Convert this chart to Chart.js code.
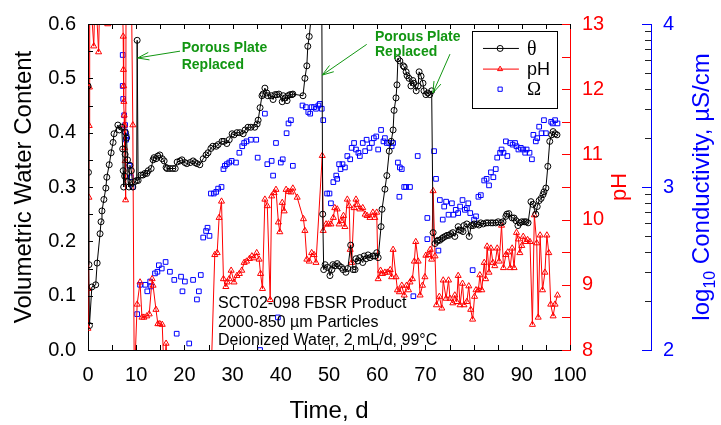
<!DOCTYPE html>
<html>
<head>
<meta charset="utf-8">
<script src="https://cdn.jsdelivr.net/npm/chart.js@4.4.1/dist/chart.umd.min.js"></script>
<style>
html,body{margin:0;padding:0;background:#fff;}
</style>
</head>
<body>
<canvas id="c" width="721" height="425"></canvas>
<script>
// series: [day, value]
const theta = [
  [0.0,0.486],[0.1,0.327],[0.2,0.157],[0.3,0.045],[0.8,0.116],[1.6,0.12],[1.9,0.16],[2.5,0.214],[2.7,0.236],[2.9,0.256],
  [3.3,0.277],[3.7,0.298],[3.9,0.318],[4.4,0.341],[4.8,0.363],[5.2,0.382],[5.4,0.398],[6.2,0.414],[6.5,0.405],[7.0,0.41],
  [7.2,0.37],[7.3,0.33],[7.4,0.30],[7.6,0.32],[7.7,0.36],[7.8,0.40],[8.0,0.39],[8.2,0.35],[8.3,0.31],[8.5,0.30],
  [8.7,0.34],[9.0,0.33],[9.3,0.30],[9.7,0.31],[10.1,0.312],[10.2,0.57],[10.4,0.312],[11.0,0.322],[11.4,0.322],[11.8,0.325],
  [12.2,0.325],[12.5,0.33],[13.1,0.334],[13.5,0.35],[13.7,0.354],[14.1,0.352],[14.5,0.357],[14.9,0.359],[15.4,0.352],[15.8,0.348],
  [16.2,0.336],[16.4,0.334],[17.0,0.334],[17.6,0.334],[18.1,0.334],[18.5,0.346],[19.1,0.348],[19.5,0.35],[20.1,0.345],[20.5,0.343],
  [21.2,0.345],[21.8,0.348],[22.2,0.345],[22.6,0.343],[23.2,0.341],[23.9,0.352],[24.5,0.359],[24.9,0.363],[25.5,0.371],[25.9,0.375],
  [26.6,0.375],[27.0,0.378],[27.8,0.384],[28.2,0.384],[28.8,0.38],[29.3,0.387],[29.9,0.398],[30.3,0.396],[30.9,0.4],[31.5,0.4],
  [32.2,0.398],[32.6,0.405],[33.2,0.41],[33.8,0.41],[34.6,0.41],[35.1,0.416],[35.3,0.423],[35.7,0.446],[36.1,0.468],[36.3,0.471],
  [36.7,0.482],[37.1,0.473],[37.3,0.468],[38.0,0.468],[38.4,0.461],[38.8,0.47],[39.2,0.47],[39.6,0.471],[40.3,0.457],[40.5,0.468],
  [40.9,0.464],[41.3,0.459],[41.5,0.468],[41.9,0.47],[42.3,0.47],[42.5,0.471],[44.6,0.468],[45.0,0.5],[45.4,0.523],[45.6,0.559],
  [45.9,0.577],[46.5,0.63],[47.5,0.66],[48.5,0.64],[48.7,0.25],[48.9,0.148],[49.2,0.157],[49.7,0.152],[50.2,0.137],[50.6,0.148],
  [50.8,0.157],[51.2,0.155],[51.7,0.159],[52.1,0.155],[52.6,0.152],[52.9,0.148],[53.5,0.143],[53.9,0.15],[54.5,0.193],[55.0,0.148],
  [55.4,0.148],[55.6,0.168],[56.0,0.164],[56.4,0.17],[57.0,0.161],[57.3,0.173],[57.7,0.168],[58.1,0.175],[58.5,0.17],[59.1,0.173],
  [59.5,0.173],[59.9,0.179],[60.2,0.17],[60.8,0.227],[61.0,0.259],[61.6,0.296],[62.0,0.321],[62.5,0.366],[62.9,0.384],[63.3,0.405],
  [63.5,0.441],[63.9,0.464],[64.1,0.488],[64.3,0.536],[64.7,0.532],[65.4,0.523],[65.6,0.521],[66.0,0.512],[66.2,0.505],[66.6,0.5],
  [67.0,0.486],[67.4,0.496],[67.6,0.491],[68.1,0.477],[68.5,0.486],[68.7,0.512],[69.1,0.504],[69.5,0.491],[69.7,0.477],[70.1,0.47],
  [70.5,0.473],[70.9,0.47],[71.3,0.477],[71.6,0.216],[72.0,0.196],[72.4,0.2],[72.6,0.202],[73.0,0.202],[73.4,0.205],[73.7,0.207],
  [74.1,0.209],[74.5,0.211],[74.9,0.211],[75.3,0.214],[75.7,0.216],[76.1,0.209],[76.8,0.227],[77.0,0.221],[77.4,0.22],[77.8,0.218],
  [78.0,0.229],[78.6,0.232],[79.1,0.209],[79.5,0.229],[79.9,0.229],[80.1,0.232],[80.7,0.232],[81.1,0.23],[81.5,0.234],[82.0,0.232],
  [82.6,0.234],[83.0,0.234],[83.6,0.234],[84.0,0.234],[84.6,0.234],[85.1,0.236],[85.7,0.234],[86.1,0.236],[86.7,0.246],[86.9,0.25],
  [87.3,0.251],[88.0,0.243],[88.4,0.243],[88.8,0.238],[89.2,0.229],[89.6,0.234],[90.0,0.236],[90.5,0.236],[90.9,0.236],[91.3,0.234],
  [91.9,0.273],[92.3,0.268],[92.9,0.25],[93.2,0.264],[93.6,0.275],[94.0,0.279],[94.4,0.286],[94.6,0.291],[95.0,0.298],[95.4,0.338],
  [95.8,0.384],[96.2,0.396],[96.5,0.402],[96.9,0.398],[97.3,0.396]
];

const ph = [
  [0.0,8.33],[0.1,8.94],[0.2,10.34],[0.25,11.44],[0.3,12.03],[0.4,13.6],[1.2,12.66],[1.5,13.6],[2.2,12.57],[2.5,13.6],
  [4.1,13.0],[4.5,13.6],[7.1,13.6],[7.3,12.81],[7.35,12.3],[7.4,12.05],[7.45,11.81],[7.5,11.6],[7.55,11.45],[7.6,11.1],
  [7.7,10.9],[7.8,10.3],[7.9,13.6],[9.0,13.6],[9.3,11.45],[9.6,7.5],[10.2,8.7],[10.8,9.04],[11.2,8.5],[11.6,8.5],
  [12.2,8.52],[12.7,8.55],[13.3,9.09],[13.5,8.99],[14.1,8.62],[14.5,8.4],[14.9,8.4],[15.4,8.39],[15.8,7.6],[16.2,8.1],
  [16.6,7.5],[25.5,7.5],[26.3,9.46],[26.8,9.49],[27.2,10.03],[27.7,10.28],[28.1,9.09],[28.6,8.97],[28.9,9.04],[29.3,9.09],
  [29.7,9.22],[30.3,9.04],[30.9,9.14],[31.4,9.17],[31.9,9.22],[32.4,9.34],[32.9,9.36],[33.5,9.4],[34.0,9.44],[34.4,9.41],
  [35.0,9.49],[35.5,9.39],[35.8,9.17],[36.2,8.94],[36.7,10.31],[37.2,10.21],[37.8,8.77],[38.1,10.36],[38.6,10.41],[39.0,10.46],
  [39.5,9.96],[39.8,9.81],[40.3,10.26],[40.7,10.13],[41.1,10.46],[41.6,10.43],[42.1,10.42],[42.5,10.48],[43.4,10.34],[44.7,10.01],
  [45.0,9.83],[45.4,9.39],[45.9,9.36],[46.4,9.49],[46.9,9.46],[47.3,9.34],[48.6,10.98],[48.8,9.83],[49.4,9.93],[49.9,9.93],
  [50.4,9.93],[50.9,10.03],[51.2,10.18],[51.7,10.16],[52.1,9.93],[52.5,9.98],[53.0,10.06],[53.3,9.89],[53.8,10.31],[54.2,10.21],
  [54.4,9.54],[54.7,9.34],[55.2,10.18],[55.6,10.31],[55.9,10.23],[56.4,10.16],[57.0,10.18],[57.5,10.08],[57.9,10.06],[58.5,10.03],
  [59.1,10.11],[59.5,10.03],[59.9,10.11],[60.2,9.09],[60.7,9.22],[61.1,9.17],[61.6,9.19],[62.1,9.19],[62.7,9.23],[63.0,9.12],
  [63.3,9.54],[63.9,9.12],[64.2,8.92],[64.6,8.89],[65.1,8.99],[65.6,8.84],[66.1,8.99],[66.5,8.92],[66.8,9.04],[67.3,9.09],
  [67.7,9.36],[68.0,9.66],[68.5,9.36],[68.9,8.84],[69.4,8.99],[69.9,9.12],[70.1,9.45],[70.6,9.46],[71.0,9.54],[71.3,9.39],
  [71.6,10.44],[72.0,9.44],[72.3,8.69],[72.9,8.82],[73.4,8.64],[73.7,9.07],[74.3,8.79],[74.8,9.07],[75.1,8.79],[75.7,8.72],
  [76.1,8.84],[76.5,8.74],[76.8,9.14],[77.2,8.69],[77.7,9.02],[78.0,8.69],[78.6,8.74],[79.0,8.98],[79.4,8.62],[79.8,8.47],
  [80.2,8.82],[80.5,8.92],[81.0,8.92],[81.3,9.15],[81.7,8.92],[82.2,9.34],[82.5,9.09],[82.8,9.59],[83.2,9.19],[83.6,9.56],
  [84.0,9.34],[84.4,9.29],[84.9,9.56],[85.3,9.36],[85.8,9.91],[86.2,9.26],[86.7,9.46],[87.1,9.5],[87.6,9.26],[88.0,9.56],
  [88.4,9.26],[88.9,9.8],[89.3,9.7],[89.6,9.49],[90.0,9.6],[90.3,9.74],[90.9,9.66],[91.2,9.69],[91.7,9.66],[92.2,8.39],
  [92.6,10.07],[93.1,9.64],[93.4,8.5],[93.8,9.76],[94.3,8.92],[94.8,9.19],[95.2,9.76],[95.6,9.49],[96.0,8.7],[96.5,8.52],
  [96.9,8.7],[97.4,8.84]
];

// log10 conductivity
const cond = [
  [7.2,3.81],[7.2,3.62],[7.3,3.54],[7.5,3.44],[7.7,3.38],[7.7,3.34],[8.0,3.31],[7.9,3.29],[8.6,3.13],[8.9,3.06],
  [9.3,3.0],[10.2,2.22],[10.8,2.40],[11.9,2.40],[12.3,2.36],[12.9,2.42],[13.1,2.39],[13.9,2.47],[14.4,2.48],[14.7,2.52],
  [15.3,2.5],[16.1,2.54],[17.0,2.48],[17.9,2.43],[18.4,2.1],[19.3,2.45],[19.6,2.36],[20.1,2.42],[21.0,2.04],[21.8,2.43],
  [22.6,2.31],[23.0,2.36],[23.4,2.46],[23.9,2.69],[24.5,2.73],[24.8,2.75],[25.2,2.7],[25.5,2.96],[26.1,2.96],[26.6,2.97],
  [27.0,2.99],[27.7,3.0],[28.1,3.11],[28.4,3.13],[28.8,3.14],[29.3,3.15],[29.8,3.16],[30.7,3.15],[31.4,3.21],[32.0,3.25],
  [32.4,3.27],[32.9,3.28],[33.8,3.29],[34.9,3.29],[35.2,3.18],[35.7,2.0],[36.7,3.45],[37.2,3.14],[38.1,3.16],[38.4,3.07],
  [39.0,3.27],[39.4,2.2],[40.0,3.15],[40.4,3.17],[41.2,3.33],[41.6,3.39],[42.1,3.41],[42.5,3.13],[44.5,3.5],[45.2,3.49],
  [45.7,3.46],[46.1,3.45],[46.4,3.49],[46.9,3.49],[47.3,3.48],[47.8,3.5],[48.1,3.51],[48.5,3.48],[48.8,3.41],[49.6,2.96],
  [50.1,2.96],[50.4,2.9],[50.9,3.03],[51.5,3.07],[51.7,3.05],[52.1,3.14],[52.4,3.11],[52.8,3.14],[53.3,3.12],[53.8,3.19],
  [54.4,3.17],[54.7,3.24],[55.2,3.27],[55.6,3.23],[56.1,3.21],[56.4,3.19],[57.0,3.27],[57.5,3.22],[57.8,3.29],[58.4,3.24],
  [58.9,3.27],[59.3,3.3],[59.8,3.31],[60.2,3.23],[60.8,3.35],[61.3,3.28],[61.6,3.3],[62.0,3.27],[62.5,3.27],[63.0,3.25],
  [63.3,3.27],[64.3,3.15],[64.6,2.94],[64.7,3.12],[65.1,3.11],[65.6,3.0],[66.0,3.0],[66.8,3.0],[67.5,2.33],[68.4,3.19],
  [70.4,2.81],[70.4,2.68],[71.8,3.22],[72.2,3.05],[72.7,2.61],[73.0,2.92],[73.6,2.8],[73.9,2.88],[74.3,2.91],[74.8,2.83],
  [75.5,2.9],[75.8,2.83],[76.3,2.86],[76.8,2.84],[77.2,2.88],[77.7,2.92],[78.2,2.86],[78.6,2.87],[78.9,2.9],[79.3,2.84],
  [79.8,2.49],[80.1,2.8],[80.5,2.82],[81.0,2.94],[81.5,2.95],[82.2,3.04],[82.7,3.05],[83.2,3.01],[83.6,3.09],[84.1,3.06],
  [84.6,3.11],[84.9,3.18],[85.5,3.21],[85.8,3.23],[86.2,3.21],[86.7,3.28],[87.0,3.19],[87.6,3.27],[88.1,3.26],[88.6,3.27],
  [88.9,3.25],[89.3,3.23],[89.8,3.24],[90.3,3.23],[90.7,3.21],[91.0,3.23],[91.6,3.21],[92.1,3.17],[92.4,3.32],[92.9,3.28],
  [93.2,3.3],[93.6,3.37],[94.1,3.33],[94.6,3.41],[95.0,3.33],[96.1,3.4],[96.4,3.39],[96.9,3.41],[97.4,3.39]
];

const dayTicks = [0,10,20,30,40,50,60,70,80,90,100];
const thetaTicks = [0,0.1,0.2,0.3,0.4,0.5,0.6];
const phTicks = [8,9,10,11,12,13];
const condTicks = [2,3,4];

const RED = '#ff0000', BLUE = '#0000ff', GREEN = '#129612';
const SANS = "'Liberation Sans', Arial, Helvetica, sans-serif";
const SERIF = "'Liberation Serif', 'Times New Roman', serif";

Chart.defaults.font.family = SANS;
Chart.defaults.color = '#000';

const toXY = pts => pts.map(p => ({x: p[0], y: p[1]}));
const setTicks = arr => s => { s.ticks = arr.map(v => ({value: v})); };

function arrow(ctx, x1, y1, x2, y2) {
  const a = Math.atan2(y2 - y1, x2 - x1), L = 12, s = 0.32;
  ctx.beginPath();
  ctx.moveTo(x1, y1); ctx.lineTo(x2, y2);
  ctx.moveTo(x2 - L * Math.cos(a - s), y2 - L * Math.sin(a - s));
  ctx.lineTo(x2, y2);
  ctx.lineTo(x2 - L * Math.cos(a + s), y2 - L * Math.sin(a + s));
  ctx.stroke();
}

// frame, inward ticks, right-hand titles, legend, notes
const extras = {
  id: 'extras',
  afterDraw(chart) {
    const {ctx, chartArea: a, scales} = chart;
    const X = v => scales.x.getPixelForValue(v);
    const Y = v => scales.y.getPixelForValue(v);
    const P = v => scales.yPH.getPixelForValue(v);
    const C = v => scales.yC.getPixelForValue(v);
    const seg = (x1, y1, x2, y2) => { ctx.beginPath(); ctx.moveTo(x1, y1); ctx.lineTo(x2, y2); ctx.stroke(); };
    ctx.save();
    ctx.lineWidth = 1;

    ctx.strokeStyle = '#000';
    seg(a.left, a.top + 0.5, a.right, a.top + 0.5);
    for (let d = 0; d <= 100; d += 5) {
      const px = Math.round(X(d)) + 0.5;
      seg(px, a.bottom, px, a.bottom - 5);
      seg(px, a.top, px, a.top + 5);
    }
    for (let t = 0; t <= 0.6001; t += 0.05) {
      const py = Math.round(Y(t)) + 0.5;
      seg(a.left, py, a.left + 5, py);
    }
    ctx.strokeStyle = RED;
    for (let p = 8; p <= 13; p += 0.5) {
      const py = Math.round(P(p)) + 0.5;
      seg(a.right, py, a.right - 8, py);
    }
    const cx = scales.yC.left;
    for (let e = 2; e < 4; e++) {
      for (let k = 2; k <= 9; k++) {
        const py = Math.round(C(e + Math.log10(k))) + 0.5;
        ctx.strokeStyle = '#222';
        seg(cx, py, cx - 6, py);
      }
    }
    ctx.strokeStyle = BLUE;
    condTicks.forEach(v => { const py = Math.round(C(v)) + 0.5; seg(cx, py, cx - 9, py); });

    // right-hand axis titles, reading bottom to top
    const midY = (a.top + a.bottom) / 2;
    ctx.save();
    ctx.translate(626, midY);
    ctx.rotate(-Math.PI / 2);
    ctx.fillStyle = RED;
    ctx.font = '22px ' + SANS;
    ctx.textAlign = 'center';
    ctx.textBaseline = 'alphabetic';
    ctx.fillText('pH', 0, 0);
    ctx.restore();

    ctx.save();
    ctx.translate(709, midY);
    ctx.rotate(-Math.PI / 2);
    ctx.fillStyle = BLUE;
    ctx.textBaseline = 'alphabetic';
    ctx.textAlign = 'left';
    const big = '24px ' + SANS, small = '16px ' + SANS;
    ctx.font = big; const w1 = ctx.measureText('log').width;
    ctx.font = small; const w2 = ctx.measureText('10').width;
    ctx.font = big; const w3 = ctx.measureText(' Conductivity, \u00b5S/cm').width;
    let sx = -(w1 + w2 + w3) / 2;
    ctx.fillText('log', sx, 0); sx += w1;
    ctx.font = small; ctx.fillText('10', sx, 6); sx += w2;
    ctx.font = big; ctx.fillText(' Conductivity, \u00b5S/cm', sx, 0);
    ctx.restore();

    // legend
    const lx0 = X(79.7), lx1 = X(97.3), ly0 = Y(0.588), ly1 = Y(0.4455);
    ctx.strokeStyle = '#000';
    ctx.strokeRect(Math.round(lx0) + 0.5, Math.round(ly0) + 0.5, Math.round(lx1 - lx0), Math.round(ly1 - ly0));
    const rows = [
      {y: Y(0.555), col: '#000', style: 'circle', line: true, txt: '\u03b8', font: '20px ' + SERIF},
      {y: Y(0.517), col: RED, style: 'triangle', line: true, txt: 'pH', font: '18px ' + SANS},
      {y: Y(0.480), col: BLUE, style: 'rect', line: false, txt: '\u03a9', font: '19px ' + SERIF}
    ];
    rows.forEach(r => {
      ctx.strokeStyle = r.col;
      if (r.line) seg(X(81.95), r.y, X(89.4), r.y);
      ctx.fillStyle = 'rgba(0,0,0,0)';
      Chart.helpers.drawPoint(ctx, {pointStyle: r.style, radius: 3, borderWidth: 1}, X(85.5), r.y);
      ctx.fillStyle = '#000';
      ctx.font = r.font;
      ctx.textAlign = 'left';
      ctx.textBaseline = 'middle';
      ctx.fillText(r.txt, X(91.1), r.y + 1);
    });

    // "Porous Plate Replaced" notes
    ctx.strokeStyle = GREEN;
    ctx.fillStyle = GREEN;
    arrow(ctx, X(19.09), Y(0.55), X(10.3), Y(0.5375));
    arrow(ctx, X(57.82), Y(0.5625), X(48.6), Y(0.506));
    arrow(ctx, X(75.1), Y(0.5446), X(71.55), Y(0.473));
    ctx.font = 'bold 14px ' + SANS;
    ctx.textAlign = 'left';
    ctx.textBaseline = 'alphabetic';
    ctx.fillText('Porous Plate', X(19.44), Y(0.548));
    ctx.fillText('Replaced', X(19.44), Y(0.518));
    ctx.fillText('Porous Plate', X(59.54), Y(0.5696));
    ctx.fillText('Replaced', X(59.54), Y(0.541));

    // sample description
    ctx.fillStyle = '#000';
    ctx.font = '16px ' + SANS;
    ctx.fillText('SCT02-098 FBSR Product', X(26.97), Y(0.0768));
    ctx.fillText('2000-850 \u00b5m Particles', X(26.97), Y(0.0429));
    ctx.fillText('Deionized Water, 2 mL/d, 99\u00b0C', X(26.97), Y(0.0089));
    ctx.restore();
  }
};

new Chart(document.getElementById('c'), {
  type: 'line',
  data: {
    datasets: [
      {
        label: '\u03b8', data: toXY(theta), yAxisID: 'y',
        borderColor: '#000', borderWidth: 1, tension: 0,
        pointStyle: 'circle', pointRadius: 3, pointBorderWidth: 1,
        pointBorderColor: '#000', pointBackgroundColor: 'rgba(0,0,0,0)'
      },
      {
        label: 'pH', data: toXY(ph), yAxisID: 'yPH',
        borderColor: RED, borderWidth: 1, tension: 0,
        pointStyle: 'triangle', pointRadius: 3.5, pointBorderWidth: 1,
        pointBorderColor: RED, pointBackgroundColor: 'rgba(0,0,0,0)'
      },
      {
        label: '\u03a9', data: toXY(cond), yAxisID: 'yC', showLine: false,
        pointStyle: 'rect', pointRadius: 3.3, pointBorderWidth: 1,
        pointBorderColor: BLUE, pointBackgroundColor: 'rgba(0,0,0,0)'
      }
    ]
  },
  options: {
    responsive: false,
    animation: false,
    devicePixelRatio: 1,
    layout: {padding: {top: 14, left: 0, right: 0, bottom: 0}},
    plugins: {legend: {display: false}, tooltip: {enabled: false}},
    scales: {
      x: {
        type: 'linear', min: 0, max: 100,
        afterBuildTicks: setTicks(dayTicks),
        afterFit: s => { s.height = 75; },
        grid: {display: false, drawTicks: false},
        border: {display: true, color: '#000', width: 1},
        ticks: {color: '#000', font: {size: 20}, padding: 13, maxRotation: 0},
        title: {display: true, text: 'Time, d', color: '#000', font: {size: 24}, padding: {top: 0, bottom: -1}}
      },
      y: {
        type: 'linear', position: 'left', min: 0, max: 0.6,
        afterBuildTicks: setTicks(thetaTicks),
        afterFit: s => { s.width = 88; },
        grid: {display: false, drawTicks: false},
        border: {display: true, color: '#000', width: 1},
        ticks: {color: '#000', font: {size: 20}, padding: 12, callback: v => v.toFixed(1)},
        title: {display: true, text: 'Volumetric Water Content', color: '#000', font: {size: 24}, padding: {top: 10, bottom: 0}}
      },
      yPH: {
        type: 'linear', position: 'right', weight: 0, min: 8, max: 13,
        afterBuildTicks: setTicks(phTicks),
        afterFit: s => { s.width = 81; },
        grid: {display: false, drawTicks: false},
        border: {display: true, color: RED, width: 1},
        ticks: {color: RED, font: {size: 20}, padding: 12}
      },
      yC: {
        type: 'linear', position: 'right', weight: 1, min: 2, max: 4,
        afterBuildTicks: setTicks(condTicks),
        afterFit: s => { s.width = 70; },
        grid: {display: false, drawTicks: false},
        border: {display: true, color: BLUE, width: 1},
        ticks: {color: BLUE, font: {size: 20}, padding: 12}
      }
    }
  },
  plugins: [extras]
});
</script>
</body>
</html>
